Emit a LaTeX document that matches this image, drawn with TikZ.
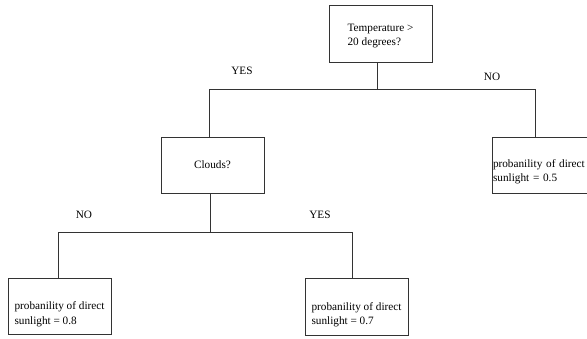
\documentclass[tikz,border=0pt]{standalone}
\usepackage{fontspec}
\setmainfont{Liberation Serif}

\begin{document}
\begin{tikzpicture}[x=1pt, y=-1pt,
        every node/.style={font=\fontsize{11.25}{14.5}\selectfont},
        box/.style={draw=black!80, line width=0.8pt, minimum width=103pt, minimum height=56pt},
        leaf/.style={box, align=left, text height=39pt},
        branch/.style={draw=black!80, line width=0.8pt}]
        \useasboundingbox (0,0) rectangle (587,338);

        \node[box, align=left, minimum height=57pt, text height=26.5pt] (temp) at (380.5,33.5) {Temperature >\\20 degrees?};
        \node[box] (clouds) at (212.5,165) {Clouds?};
        \node[leaf, text width=101pt, inner xsep=1pt, text height=21pt] (prob5) at (543.5,165) {probanility of direct\\sunlight = 0.5};
        \node[leaf] (prob8) at (59.5,306) {probanility of direct\\sunlight = 0.8};
        \node[leaf, minimum height=57pt] (prob7) at (356.5,306.5) {probanility of direct\\sunlight = 0.7};

        \coordinate (J0) at (377,89);
        \coordinate (L0) at (209,89);
        \coordinate (R0) at (535,89);
        \draw[branch] (temp.south -| J0) -- (J0);
        \draw[branch] (clouds.north -| L0) -- (L0) -- (R0) -- (prob5.north -| R0);

        \coordinate (J1) at (210,232);
        \coordinate (L1) at (58,232);
        \coordinate (R1) at (352,232);
        \draw[branch] (clouds.south -| J1) -- (J1);
        \draw[branch] (prob8.north -| L1) -- (L1) -- (R1) -- (prob7.north -| R1);

        \node (yes0) at (242,71) {YES};
        \node (no0) at (492,77) {NO};
        \node (no1) at (84,215) {NO};
        \node (yes1) at (320,215) {YES};
\end{tikzpicture}
\end{document}
